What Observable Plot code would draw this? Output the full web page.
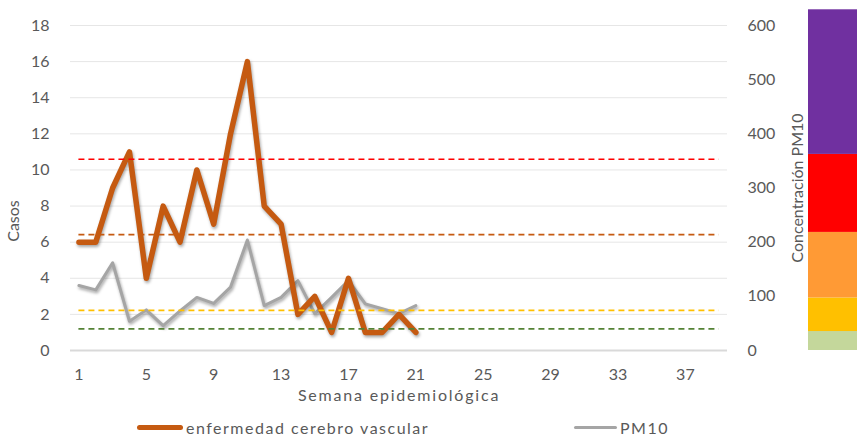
<!DOCTYPE html>
<html>
<head>
<meta charset="utf-8">
<script src="https://cdn.jsdelivr.net/npm/d3@7"></script>
<script src="https://cdn.jsdelivr.net/npm/@observablehq/plot@0.6"></script>
<style>
  html, body { margin: 0; padding: 0; background: #ffffff; }
  #wrap { position: relative; width: 866px; height: 441px; font-family: Lato, "Open Sans", sans-serif; color: #595959; }
  #wrap svg { display: block; }
  #overlay { position: absolute; left: 0; top: 0; pointer-events: none; }
  g[aria-label="line"] path { filter: drop-shadow(1px 2px 1.5px rgba(0,0,0,0.35)); }
  #legend { position: relative; height: 31px; font-size: 16px; color: #595959; letter-spacing: 1.5px; }
  .item { position: absolute; top: 2px; height: 31px; display: flex; align-items: center; }
  .swatch { display: inline-block; border-radius: 3px; }
</style>
</head>
<body>
<div id="wrap">
  <div id="main"></div>
  <div id="overlay"></div>
  <div id="legend"></div>
</div>
<script>
// ---- data ----
const weeks = [1,2,3,4,5,6,7,8,9,10,11,12,13,14,15,16,17,18,19,20,21];
const casos = [6,6,9,11,4,8,6,10,7,12,16,8,7,2,3,1,4,1,1,2,1];
const pm10  = [120,112,162,54,75,46,73,98,87,117,204,83,98,129,68,98,129,86,77,68,83];
const weekCount = 39;
const weekTicks = [1,5,9,13,17,21,25,29,33,37];
const casosTicks = [0,2,4,6,8,10,12,14,16,18];
const pm10Ticks = [0,100,200,300,400,500,600];
const thresholdValues = [353,214,74,40];
const thresholdColors = ["#FF0000","#C55A11","#FFC000","#548235"];
const bandStart = [0,35,97,218,362];
const bandEnd   = [46,97,218,362,629];
const bandColors = ["#C4D79B","#FFC000","#FF9A35","#FF0000","#7030A0"];
const seriesNames = ["enfermedad cerebro vascular","PM10"];
const seriesColors = ["#C55A11","#A5A5A5"];

const casosMax = 18, pm10Max = 600;
const ratio = casosMax / pm10Max;

const casosData = weeks.map((w,i) => ({week: w, value: casos[i]}));
const pmData = weeks.map((w,i) => ({week: w, value: pm10[i] * ratio}));
const thresholds = thresholdValues.map((v,i) => ({value: v * ratio, color: thresholdColors[i]}));
const bands = bandStart.map((s,i) => ({y1: s, y2: bandEnd[i], color: bandColors[i]}));

const W = 866, H = 410, MT = 25, MB = 60, ML = 70, MR = 139;
const font = "Lato, 'Open Sans', sans-serif";

const main = Plot.plot({
  width: W, height: H,
  marginTop: MT, marginBottom: MB, marginLeft: ML, marginRight: MR,
  style: {fontFamily: font, fontSize: "16px", color: "#595959", background: "transparent"},
  x: {type: "linear", domain: [0.5, weekCount + 0.5], ticks: weekTicks, tickSize: 0, tickPadding: 18, tickFormat: d => String(d), label: null},
  y: {domain: [0, casosMax], ticks: casosTicks, tickSize: 0, tickPadding: 21, label: null},
  marks: [
    Plot.ruleY(casosTicks.filter(d => d > 0), {stroke: "#E6E6E6", strokeWidth: 1}),
    Plot.ruleY([0], {stroke: "#D9D9D9", strokeWidth: 2}),
    Plot.line(pmData, {x: "week", y: "value", stroke: seriesColors[1], strokeWidth: 3, strokeLinejoin: "round"}),
    Plot.line(casosData, {x: "week", y: "value", stroke: seriesColors[0], strokeWidth: 5.5, strokeLinejoin: "round", strokeLinecap: "round"}),
    Plot.ruleY(thresholds, {y: "value", x1: 1, x2: weekCount, stroke: "color", strokeWidth: 1.6, strokeDasharray: "6,4"}),
    Plot.text(pm10Ticks, {y: d => d * ratio, frameAnchor: "right", dx: 20, textAnchor: "start", fill: "#595959", fontSize: 16}),
    Plot.text(["Casos"], {frameAnchor: "left", rotate: -90, textAnchor: "middle", dx: -57, dy: 33, fill: "#595959", fontSize: 16}),
    Plot.text(["Concentración PM10"], {frameAnchor: "right", rotate: -90, textAnchor: "middle", dx: 70, fill: "#595959", fontSize: 16}),
    Plot.text(["Semana epidemiológica"], {frameAnchor: "bottom", textAnchor: "middle", dy: 50, fill: "#595959", fontSize: 16, letterSpacing: "1.8px"})
  ]
});
document.getElementById("main").appendChild(main);
main.querySelectorAll("text").forEach(t => {
  if (t.textContent === "Semana epidemiológica") t.style.letterSpacing = "1.8px";
});

const overlay = Plot.plot({
  width: W, height: H,
  marginTop: MT, marginBottom: MB, marginLeft: 808, marginRight: 9,
  style: {background: "transparent"},
  x: {type: "band", domain: ["escala"], padding: 0, axis: null},
  y: {domain: [0, pm10Max], axis: null},
  marks: [
    Plot.rectY(bands, {x: () => "escala", y1: "y1", y2: "y2", fill: "color"})
  ]
});
document.getElementById("overlay").appendChild(overlay);

// legend
const legend = document.getElementById("legend");
const items = [
  {name: seriesNames[0], color: seriesColors[0], left: 137, w: 46, h: 5},
  {name: seriesNames[1], color: seriesColors[1], left: 574, w: 43, h: 3}
];
items.forEach(it => {
  const d = document.createElement("div");
  d.className = "item";
  d.style.left = it.left + "px";
  const s = document.createElement("span");
  s.className = "swatch";
  s.style.width = it.w + "px";
  s.style.height = it.h + "px";
  s.style.background = it.color;
  const t = document.createElement("span");
  t.textContent = it.name;
  t.style.marginLeft = "3px";
  d.appendChild(s); d.appendChild(t);
  legend.appendChild(d);
});
</script>
</body>
</html>
